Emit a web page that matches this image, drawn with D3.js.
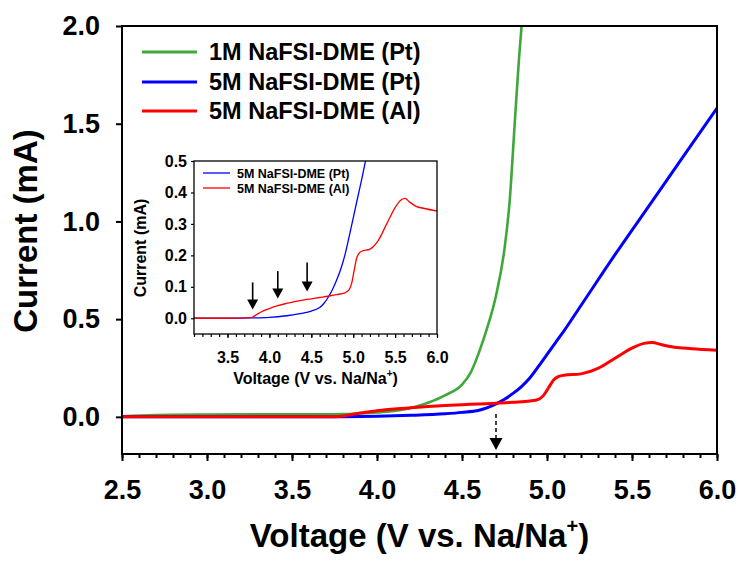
<!DOCTYPE html>
<html>
<head>
<meta charset="utf-8">
<script src="https://cdn.jsdelivr.net/npm/d3@7"></script>
<style>
  html, body { margin: 0; padding: 0; background: #fff; }
  svg { display: block; font-family: "Liberation Sans", Arial, sans-serif; font-weight: bold; }
</style>
</head>
<body>
<svg id="chart" width="741" height="567"></svg>
<script>
// Linear sweep voltammetry: [voltage (V vs. Na/Na+), current (mA)]
const pt1M = [
  [2.5, 0.003], [2.7, 0.009], [3.0, 0.012], [3.3, 0.013], [3.6, 0.013], [3.8, 0.014],
  [3.9, 0.017], [4.0, 0.022], [4.1, 0.03], [4.2, 0.045], [4.3, 0.072], [4.4, 0.11],
  [4.5, 0.165], [4.55, 0.225], [4.6, 0.33], [4.65, 0.46], [4.7, 0.62], [4.75, 0.86],
  [4.78, 1.1], [4.81, 1.5], [4.835, 1.83], [4.855, 2.05]
];
const pt5M = [
  [2.5, 0], [3.0, 0], [3.5, 0], [3.8, 0.001], [4.0, 0.003], [4.2, 0.008], [4.4, 0.016],
  [4.5, 0.023], [4.6, 0.034], [4.65, 0.047], [4.7, 0.066], [4.75, 0.09], [4.8, 0.12],
  [4.85, 0.155], [4.9, 0.2], [4.96, 0.27], [5.05, 0.38], [5.1, 0.44], [5.2, 0.57],
  [5.4, 0.83], [5.6, 1.08], [5.8, 1.33], [6.0, 1.58]
];
const al5M = [
  [2.5, 0], [3.0, 0], [3.5, 0], [3.75, 0.001], [3.8, 0.004], [3.85, 0.012], [3.9, 0.02],
  [4.0, 0.031], [4.1, 0.04], [4.2, 0.047], [4.3, 0.053], [4.4, 0.058], [4.5, 0.062],
  [4.6, 0.066], [4.7, 0.07], [4.8, 0.075], [4.9, 0.081], [4.95, 0.09], [4.98, 0.11],
  [5.01, 0.15], [5.04, 0.19], [5.07, 0.207], [5.1, 0.213], [5.2, 0.22], [5.3, 0.248],
  [5.4, 0.3], [5.5, 0.352], [5.57, 0.376], [5.62, 0.381], [5.67, 0.37], [5.75, 0.356],
  [5.85, 0.349], [6.0, 0.341]
];

const seriesNames = ["1M NaFSI-DME (Pt)", "5M NaFSI-DME (Pt)", "5M NaFSI-DME (Al)"];
const seriesColors = ["#3ea83a", "#0000ff", "#ff0000"];

const xTicks = [2.5, 3.0, 3.5, 4.0, 4.5, 5.0, 5.5, 6.0];
const yTicks = [0.0, 0.5, 1.0, 1.5, 2.0];
const insetXTicks = [3.5, 4.0, 4.5, 5.0, 5.5, 6.0];
const insetYTicks = [0.0, 0.1, 0.2, 0.3, 0.4, 0.5];

// Onset markers (voltage, current at arrow tip, current at arrow tail)
const onsetMain = [4.7, -0.17, 0.015];
const onsetInsetV = [3.8, 4.1, 4.45];
const onsetInsetTip = [0.028, 0.063, 0.085];
const onsetInsetTail = [0.114, 0.15, 0.177];

const svg = d3.select("#chart");
const fmt = d3.format(".1f");
const range = (a, b, s) => d3.range(Math.round((b - a) / s) + 1).map(i => +(a + i * s).toFixed(3));

// ---------- main plot ----------
const M = { l: 122, r: 717, t: 26, b: 454 };
const x = d3.scaleLinear([2.5, 6.0], [M.l, M.r]);
const y = d3.scaleLinear([-0.19, 2.0], [M.b, M.t]);

svg.append("clipPath").attr("id", "clipMain")
  .append("rect").attr("x", M.l).attr("y", M.t).attr("width", M.r - M.l).attr("height", M.b - M.t);

const line = (sx, sy) => d3.line().x(d => sx(d[0])).y(d => sy(d[1])).curve(d3.curveMonotoneX);

const mainLines = svg.append("g").attr("clip-path", "url(#clipMain)");
[pt1M, pt5M, al5M].forEach((s, i) => {
  mainLines.append("path").datum(s)
    .attr("d", line(x, y))
    .attr("fill", "none")
    .attr("stroke", seriesColors[i])
    .attr("stroke-width", i === 0 ? 2.6 : 3)
    .attr("stroke-linejoin", "round");
});

// frame
svg.append("rect").attr("x", M.l).attr("y", M.t).attr("width", M.r - M.l).attr("height", M.b - M.t)
  .attr("fill", "none").attr("stroke", "#000").attr("stroke-width", 2);

// x axis: minor + major ticks
const xMinor = svg.append("g").attr("transform", `translate(0,${M.b})`)
  .call(d3.axisBottom(x).tickValues(range(2.5, 6.0, 0.1)).tickSize(4).tickFormat(""));
const xMajor = svg.append("g").attr("transform", `translate(0,${M.b})`)
  .call(d3.axisBottom(x).tickValues(xTicks).tickSize(7).tickPadding(19).tickFormat(fmt));
const yAxis = svg.append("g").attr("transform", `translate(${M.l},0)`)
  .call(d3.axisLeft(y).tickValues(yTicks).tickSize(6).tickPadding(16).tickFormat(fmt));

[xMinor, xMajor, yAxis].forEach(g => {
  g.select(".domain").remove();
  g.selectAll(".tick line").attr("stroke", "#000").attr("stroke-width", 2);
  g.selectAll(".tick text").attr("font-size", 27).attr("font-family", "Liberation Sans, Arial, sans-serif")
    .attr("font-weight", "bold").attr("fill", "#000");
});

// axis titles
const xTitle = svg.append("text").attr("x", (M.l + M.r) / 2).attr("y", 547)
  .attr("text-anchor", "middle").attr("font-size", 33);
xTitle.append("tspan").text("Voltage (V vs. Na/Na");
xTitle.append("tspan").attr("font-size", 20).attr("dy", -14).text("+");
xTitle.append("tspan").attr("dy", 14).text(")");

svg.append("text").attr("transform", `translate(37,231) rotate(-90)`)
  .attr("text-anchor", "middle").attr("font-size", 33).text("Current (mA)");

// legend
const legY = [52, 82, 111];
seriesNames.forEach((n, i) => {
  svg.append("line").attr("x1", 142).attr("x2", 197).attr("y1", legY[i]).attr("y2", legY[i])
    .attr("stroke", seriesColors[i]).attr("stroke-width", 3);
  svg.append("text").attr("x", 209).attr("y", legY[i]).attr("dy", "0.36em")
    .attr("font-size", 23.5).text(n);
});

// dashed onset arrow
const ax = x(onsetMain[0]);
const tipY = y(onsetMain[1]);
svg.append("line").attr("x1", ax).attr("x2", ax).attr("y1", y(onsetMain[2])).attr("y2", tipY - 10)
  .attr("stroke", "#000").attr("stroke-width", 1.5).attr("stroke-dasharray", "4,3");
svg.append("path").attr("d", `M${ax - 6.5},${tipY - 12} L${ax + 6.5},${tipY - 12} L${ax},${tipY} Z`)
  .attr("fill", "#000");

// ---------- inset ----------
const I = { l: 194, r: 437, t: 161, b: 334 };
const xi = d3.scaleLinear([3.1, 6.0], [I.l, I.r]);
const yi = d3.scaleLinear([-0.05, 0.5], [I.b, I.t]);

svg.append("rect").attr("x", I.l).attr("y", I.t).attr("width", I.r - I.l).attr("height", I.b - I.t)
  .attr("fill", "#fff");
svg.append("clipPath").attr("id", "clipInset")
  .append("rect").attr("x", I.l).attr("y", I.t).attr("width", I.r - I.l).attr("height", I.b - I.t);

const insetLines = svg.append("g").attr("clip-path", "url(#clipInset)");
[pt5M, al5M].forEach((s, i) => {
  insetLines.append("path").datum(s.filter(d => d[0] >= 3.0))
    .attr("d", line(xi, yi))
    .attr("fill", "none")
    .attr("stroke", seriesColors[i + 1])
    .attr("stroke-width", 1.3);
});

svg.append("rect").attr("x", I.l).attr("y", I.t).attr("width", I.r - I.l).attr("height", I.b - I.t)
  .attr("fill", "none").attr("stroke", "#000").attr("stroke-width", 1.3);

const xiMinor = svg.append("g").attr("transform", `translate(0,${I.b})`)
  .call(d3.axisBottom(xi).tickValues(range(3.1, 6.0, 0.1)).tickSize(3).tickFormat(""));
const xiMajor = svg.append("g").attr("transform", `translate(0,${I.b})`)
  .call(d3.axisBottom(xi).tickValues(insetXTicks).tickSize(4).tickPadding(14).tickFormat(fmt));
const yiAxis = svg.append("g").attr("transform", `translate(${I.l},0)`)
  .call(d3.axisLeft(yi).tickValues(insetYTicks).tickSize(3).tickPadding(4).tickFormat(fmt));

[xiMinor, xiMajor, yiAxis].forEach(g => {
  g.select(".domain").remove();
  g.selectAll(".tick line").attr("stroke", "#000").attr("stroke-width", 1.2);
  g.selectAll(".tick text").attr("font-size", 16).attr("font-family", "Liberation Sans, Arial, sans-serif")
    .attr("font-weight", "bold").attr("fill", "#000");
});

const xiTitle = svg.append("text").attr("x", (I.l + I.r) / 2).attr("y", 384)
  .attr("text-anchor", "middle").attr("font-size", 16);
xiTitle.append("tspan").text("Voltage (V vs. Na/Na");
xiTitle.append("tspan").attr("font-size", 10).attr("dy", -7).text("+");
xiTitle.append("tspan").attr("dy", 7).text(")");

svg.append("text").attr("transform", `translate(146,248) rotate(-90)`)
  .attr("text-anchor", "middle").attr("font-size", 16).text("Current (mA)");

// inset legend
[173, 188].forEach((ly, i) => {
  svg.append("line").attr("x1", 203).attr("x2", 230).attr("y1", ly).attr("y2", ly)
    .attr("stroke", seriesColors[i + 1]).attr("stroke-width", 1.3);
  svg.append("text").attr("x", 237).attr("y", ly).attr("dy", "0.36em")
    .attr("font-size", 12.5).text(seriesNames[i + 1]);
});

// inset onset arrows
onsetInsetV.forEach((v, i) => {
  const px = xi(v), pTip = yi(onsetInsetTip[i]), pTail = yi(onsetInsetTail[i]);
  svg.append("line").attr("x1", px).attr("x2", px).attr("y1", pTail).attr("y2", pTip - 8)
    .attr("stroke", "#000").attr("stroke-width", 1.6);
  svg.append("path").attr("d", `M${px - 5.5},${pTip - 10} L${px + 5.5},${pTip - 10} L${px},${pTip} Z`)
    .attr("fill", "#000");
});
</script>
</body>
</html>
